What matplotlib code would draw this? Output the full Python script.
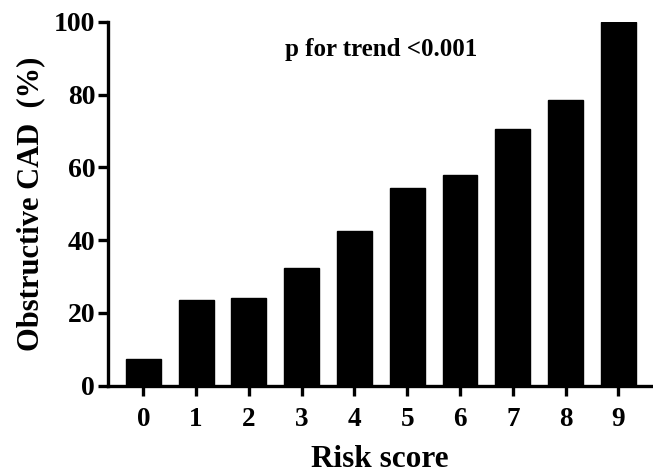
import matplotlib
matplotlib.use('Agg')
import matplotlib.pyplot as plt

# data
risk_scores = ['0', '1', '2', '3', '4', '5', '6', '7', '8', '9']
cad_pct = [7.3, 23.6, 24.0, 32.4, 42.6, 54.3, 57.9, 70.5, 78.4, 100.0]

plt.rcParams['font.family'] = ['Liberation Serif', 'DejaVu Serif']
plt.rcParams['font.weight'] = 'bold'

fig = plt.figure(figsize=(6.53, 4.75), dpi=100)
ax = fig.add_axes([0.165, 0.188, 0.833, 0.766])

x = range(len(risk_scores))
ax.bar(x, cad_pct, width=0.66, color='black', edgecolor='black')

ax.set_xlim(-0.674, 9.63)
ax.set_ylim(0, 100)
ax.set_xticks(list(x))
ax.set_xticklabels(risk_scores)
ax.set_yticks([0, 20, 40, 60, 80, 100])

for s in ['top', 'right']:
    ax.spines[s].set_visible(False)
for s in ['left', 'bottom']:
    ax.spines[s].set_linewidth(2.4)

ax.tick_params(axis='both', width=2.4, length=7)
ax.tick_params(axis='y', labelsize=20, pad=2)
ax.tick_params(axis='x', labelsize=19.5, pad=8)
for lab in ax.get_xticklabels() + ax.get_yticklabels():
    lab.set_fontweight('bold')

ax.set_xlabel('Risk score', fontsize=22.5, fontweight='bold', labelpad=10)
ax.set_ylabel('Obstructive CAD  (%)', fontsize=22, fontweight='bold', labelpad=6)

ax.text(4.5, 92.5, 'p for trend <0.001', ha='center', va='center',
        fontsize=18, fontweight='bold')

fig.savefig('out.png', dpi=100)
